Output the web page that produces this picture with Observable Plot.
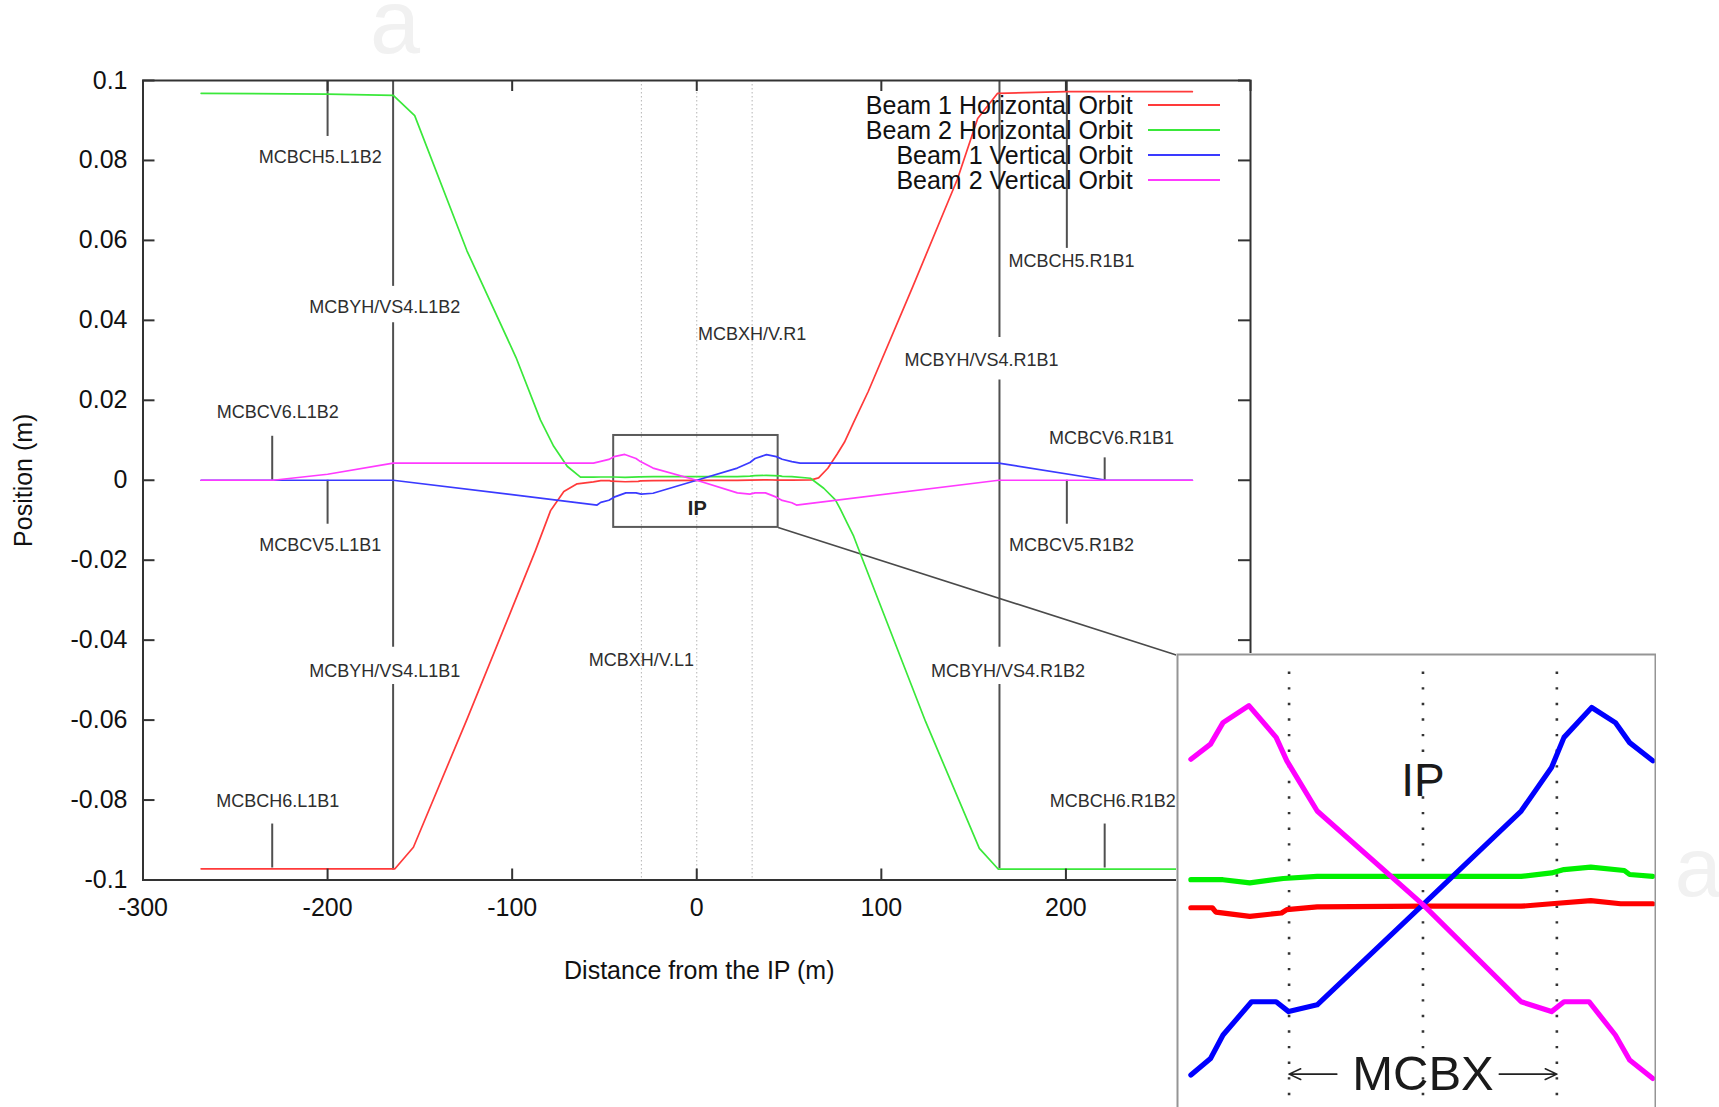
<!DOCTYPE html>
<html>
<head>
<meta charset="utf-8">
<script src="https://cdn.jsdelivr.net/npm/d3@7"></script>
<script src="https://cdn.jsdelivr.net/npm/@observablehq/plot@0.6"></script>
<style>
  html, body { margin: 0; padding: 0; background: #fff; overflow: hidden; }
  body { width: 1719px; height: 1107px; position: relative; font-family: "Liberation Sans", Arial, Helvetica, sans-serif; }
  #main { position: absolute; left: 0; top: 0; }
  #inset { position: absolute; left: 1176px; top: 653px; background: #fff; }
  #overlay { position: absolute; left: 0; top: 0; pointer-events: none; }
</style>
</head>
<body>
<div id="main"></div>
<div id="inset"></div>
<div id="overlay"></div>
<script>
// ---------------- DATA ----------------
const seriesNames = ["Beam 1 Horizontal Orbit", "Beam 2 Horizontal Orbit", "Beam 1 Vertical Orbit", "Beam 2 Vertical Orbit"];
const seriesColors = ["#ff3a3a", "#3ae83a", "#3a3aff", "#ff3aff"];
const insetColors = ["#ff0000", "#00f000", "#0000ff", "#ff00ff"];

// Beam 1 horizontal (red)
const b1hX = [-268.5, -200, -163.5, -153.5, -124.5, -100, -87.4, -79.2, -72, -64.8, -56, -52, -47.2, -46.4, -38.8, -31.7, -30.5, -23.7, 0, 22, 28.8, 37.6, 44.3, 51.5, 62, 66, 71, 76, 80, 85, 92.9, 117.1, 141.2, 152.2, 163, 200, 268.5];
const b1hY = [-0.0972, -0.0972, -0.0972, -0.0918, -0.0598, -0.032, -0.0176, -0.0076, -0.0028, -0.0009, -0.0004, -0.0001, -0.0001, -0.00024, -0.00038, -0.00027, -0.00016, -0.00007, -0.00005, -0.00005, 0.00003, 0.00013, 0.00003, 0.00003, 0.0001, 0.0006, 0.003, 0.0065, 0.0095, 0.0145, 0.0222, 0.0485, 0.0753, 0.0905, 0.0968, 0.0972, 0.0972];

// Beam 2 horizontal (green)
const b2hX = [-268.5, -200, -164.4, -152.8, -124.5, -97.9, -84.7, -77.5, -70.2, -63, -56, -52, -44.8, -38.8, -31.3, -23.7, 0, 22, 28.8, 31.6, 37.6, 45.1, 46.3, 51.5, 61.6, 68.8, 75.1, 77.8, 81.5, 85, 87.8, 124, 153.1, 163.4, 268.5];
const b2hY = [0.0968, 0.0966, 0.0963, 0.0912, 0.0574, 0.0307, 0.0151, 0.0085, 0.0035, 0.0008, 0.0008, 0.00081, 0.00081, 0.00071, 0.00085, 0.00092, 0.00092, 0.00092, 0.00103, 0.00114, 0.00122, 0.00111, 0.00098, 0.00092, 0.0005, -0.002, -0.0049, -0.0072, -0.0107, -0.014, -0.0174, -0.0604, -0.0921, -0.0973, -0.0973];

// Beam 1 vertical (blue)
const b1vX = [-268.5, -164.5, -54, -52, -47.6, -44.8, -38.4, -32.9, -30.1, -23.7, 0, 22, 28.8, 31.6, 37.8, 43.1, 46.3, 51.5, 56, 163.6, 222, 268.5];
const b1vY = [0, 0, -0.0062, -0.00553, -0.00499, -0.00423, -0.00315, -0.00315, -0.00347, -0.00325, 0, 0.00304, 0.00445, 0.00543, 0.0064, 0.00591, 0.00526, 0.00467, 0.0043, 0.0043, 0, 0];

// Beam 2 vertical (magenta)
const b2vX = [-268.5, -229.5, -200, -164.5, -56, -52, -47.6, -44.8, -39, -32.9, -30.5, -23.7, 0, 22, 28.8, 31.6, 37.2, 43.1, 46.3, 51.5, 54, 163.6, 268.5];
const b2vY = [0, 0, 0.0015, 0.0043, 0.0043, 0.00472, 0.00521, 0.00591, 0.00646, 0.00543, 0.00467, 0.00304, 0, -0.00315, -0.00347, -0.00315, -0.00315, -0.00423, -0.00504, -0.00564, -0.0062, 0, 0];

// Corrector magnet markers (vertical line segments)
const magnetLineX      = [-230, -230, -200, -200, -164.5, -164.5, -164.5, 164, 164, 164, 200.5, 200.5, 221, 221];
const magnetLineTop    = [0.011, -0.086, 0.1, 0, 0.1, 0.0394, -0.0511, 0.1, 0.0251, -0.0511, 0.1, 0, 0.0056, -0.086];
const magnetLineBottom = [0, -0.097, 0.086, -0.011, 0.0485, -0.0418, -0.0975, 0.0357, -0.0418, -0.0972, 0.058, -0.011, 0, -0.097];

// Magnet labels
const magnetNames = ["MCBCH5.L1B2", "MCBYH/VS4.L1B2", "MCBCV6.L1B2", "MCBCV5.L1B1", "MCBYH/VS4.L1B1", "MCBCH6.L1B1", "MCBXH/V.L1", "MCBXH/V.R1", "MCBYH/VS4.R1B1", "MCBCH5.R1B1", "MCBCV6.R1B1", "MCBCV5.R1B2", "MCBYH/VS4.R1B2", "MCBCH6.R1B2"];
const magnetLabelX = [-204, -169, -227, -204, -169, -227, -30, 30, 154.3, 203, 224.7, 203, 168.6, 225.4];
const magnetLabelY = [0.0807, 0.0433, 0.0171, -0.0163, -0.0477, -0.0803, -0.0449, 0.0365, 0.0299, 0.0547, 0.0105, -0.0163, -0.0477, -0.0803];

// MCBX magnet positions (dotted lines)
const mcbxX = [-30, 0, 30];

// IP zoom box and connector to the inset (main plot coordinates)
const ipBoxX = [-45, 44.1];
const ipBoxY = [-0.0118, 0.0112];
const connectorX = [44.1, 260.2];
const connectorY = [-0.0118, -0.0438];
const ipLabel = "IP";
const ipLabelX = 0.3, ipLabelY = -0.0071;

// Inset annotations
const insetXDomain = [-55, 52.1];
const insetYDomain = [-0.00707, 0.00812];
const insetShowRange = [-52, 52];
const insetDotTop = 0.00755;
const insetIpY = 0.004;
const mcbxLabel = "MCBX";
const mcbxLabelY = -0.0055;
const mcbxArrowX1 = [-19.3, 17.1];
const mcbxArrowX2 = [-30, 30];

// Axes
const xTicks = [-300, -200, -100, 0, 100, 200, 300];
const xTickLabels = ["-300", "-200", "-100", "0", "100", "200", "300"];
const yTicks = [-0.1, -0.08, -0.06, -0.04, -0.02, 0, 0.02, 0.04, 0.06, 0.08, 0.1];
const yTickLabels = ["-0.1", "-0.08", "-0.06", "-0.04", "-0.02", "0", "0.02", "0.04", "0.06", "0.08", "0.1"];
const xLabel = "Distance from the IP (m)";
const yLabel = "Position (m)";

// ---------------- BUILD ----------------
const FONT = '"Liberation Sans", Arial, Helvetica, sans-serif';
const zip = (xs, ys) => xs.map((x, i) => ({x, y: ys[i]}));
const series = [zip(b1hX, b1hY), zip(b2hX, b2hY), zip(b1vX, b1vY), zip(b2vX, b2vY)];
const segments = magnetLineX.map((x, i) => ({x, y1: magnetLineTop[i], y2: magnetLineBottom[i]}));
const labels = magnetNames.map((t, i) => ({t, x: magnetLabelX[i], y: magnetLabelY[i]}));
const xFmt = new Map(xTicks.map((d, i) => [d, xTickLabels[i]]));
const yFmt = new Map(yTicks.map((d, i) => [d, yTickLabels[i]]));

const W = 1719, H = 1107;
const mL = 142.5, mT = 80, mR = W - 1250, mB = H - 879.5;
const plotW = W - mL - mR, plotH = H - mT - mB;
const TICK = 11;

const main = Plot.plot({
  width: W, height: H,
  marginLeft: mL, marginRight: mR, marginTop: mT, marginBottom: mB,
  style: {fontFamily: FONT, background: "transparent", color: "#111"},
  x: {domain: [-300, 300]},
  y: {domain: [-0.1, 0.1]},
  marks: [
    Plot.ruleX(mcbxX, {x: d => d, stroke: "#b5b5b5", strokeWidth: 1, strokeDasharray: "1.5,2.5"}),
    Plot.ruleX(segments, {x: "x", y1: "y1", y2: "y2", stroke: "#505050", strokeWidth: 2}),
    Plot.rect([0], {x1: ipBoxX[0], x2: ipBoxX[1], y1: ipBoxY[0], y2: ipBoxY[1], fill: "none", stroke: "#5a5a5a", strokeWidth: 2}),
    Plot.link([0], {x1: connectorX[0], y1: connectorY[0], x2: connectorX[1], y2: connectorY[1], stroke: "#4a4a4a", strokeWidth: 1.6}),
    ...series.map((s, i) => Plot.line(s, {x: "x", y: "y", stroke: seriesColors[i], strokeWidth: 1.7})),
    Plot.text(labels, {x: "x", y: "y", text: "t", fontSize: 18, fill: "#2e2e2e"}),
    Plot.text([ipLabel], {x: ipLabelX, y: ipLabelY, text: d => d, fontSize: 20, fontWeight: "bold", fill: "#222"}),
    Plot.frame({stroke: "#333", strokeWidth: 2}),
    Plot.tickX(xTicks, {x: d => d, insetTop: plotH - TICK, stroke: "#333", strokeWidth: 2}),
    Plot.tickX(xTicks, {x: d => d, insetBottom: plotH - TICK, stroke: "#333", strokeWidth: 2}),
    Plot.tickY(yTicks, {y: d => d, insetRight: plotW - TICK - 1, stroke: "#333", strokeWidth: 2}),
    Plot.tickY(yTicks, {y: d => d, insetLeft: plotW - TICK - 1, stroke: "#333", strokeWidth: 2}),
    Plot.axisX(xTicks, {anchor: "bottom", tickSize: 0, tickPadding: 18, fontSize: 25, fill: "#111", tickFormat: d => xFmt.get(d), label: null}),
    Plot.axisY(yTicks, {anchor: "left", tickSize: 0, tickPadding: 15.5, fontSize: 25, fill: "#111", tickFormat: d => yFmt.get(d), label: null}),
    Plot.text([xLabel], {frameAnchor: "bottom", lineAnchor: "middle", textAnchor: "middle", dy: 90.5, dx: 2.5, text: d => d, fontSize: 25, fill: "#111"}),
    Plot.text([yLabel], {frameAnchor: "left", lineAnchor: "middle", textAnchor: "middle", dx: -119.5, rotate: -90, text: d => d, fontSize: 25, fill: "#111"})
  ]
});
document.getElementById("main").appendChild(main);

// ---------------- INSET ----------------
const inRange = d => d.x >= insetShowRange[0] && d.x <= insetShowRange[1];
const inset = Plot.plot({
  width: 480, height: 470, margin: 1,
  style: {fontFamily: FONT, background: "#fff", color: "#111"},
  x: {domain: insetXDomain, axis: null},
  y: {domain: insetYDomain, axis: null},
  marks: [
    Plot.ruleX(mcbxX, {x: d => d, y1: insetDotTop, y2: insetYDomain[0], stroke: "#333", strokeWidth: 2.6, strokeDasharray: "2.4,13.2"}),
    ...series.map((s, i) => Plot.line(s.filter(inRange), {x: "x", y: "y", stroke: insetColors[i], strokeWidth: 5.2})),
    Plot.text([ipLabel], {x: 0, y: insetIpY, text: d => d, fontSize: 46, fill: "#1a1a1a"}),
    Plot.text([mcbxLabel], {x: 0, y: mcbxLabelY, text: d => d, fontSize: 49, fill: "#1a1a1a"}),
    Plot.arrow(mcbxArrowX1.map((x, i) => ({x1: x, x2: mcbxArrowX2[i]})), {x1: "x1", x2: "x2", y1: mcbxLabelY, y2: mcbxLabelY, stroke: "#222", strokeWidth: 1.6, headLength: 12, headAngle: 50}),
    Plot.frame({stroke: "#959595", strokeWidth: 2})
  ]
});
document.getElementById("inset").appendChild(inset);

// ---------------- LEGEND + FAINT PANEL MARKS ----------------
const svg = d3.create("svg").attr("width", W).attr("height", H)
  .style("font-family", FONT);
const legendBaselines = [113.5, 138.5, 163.5, 188.5];
seriesNames.forEach((name, i) => {
  const b = legendBaselines[i];
  svg.append("text").attr("x", 1132.6).attr("y", b).attr("text-anchor", "end")
    .attr("font-size", 25).attr("fill", "#111").text(name);
  svg.append("line").attr("x1", 1148).attr("x2", 1220).attr("y1", b - 8.5).attr("y2", b - 8.5)
    .attr("stroke", seriesColors[i]).attr("stroke-width", 2);
});
svg.append("text").attr("x", 395).attr("y", 53).attr("text-anchor", "middle")
  .attr("font-size", 90).attr("fill", "#f1f1f1").text("a");
svg.append("text").attr("x", 1698).attr("y", 896).attr("text-anchor", "middle")
  .attr("font-size", 84).attr("fill", "#f1f1f1").text("a");
document.getElementById("overlay").appendChild(svg.node());
</script>
</body>
</html>
